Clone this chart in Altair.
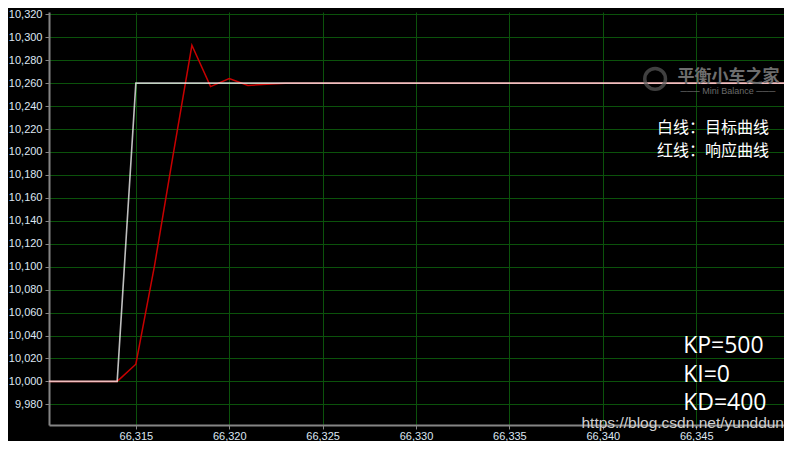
import altair as alt
import pandas as pd

# ---- data ----
target_t = [66310, 66314, 66315, 66351]
target_v = [10000, 10000, 10260, 10260]

resp_t = [66310, 66314, 66315, 66316, 66317, 66318, 66319, 66320, 66321, 66322, 66323, 66351]
resp_v = [10000, 10000, 10015, 10101, 10198, 10293, 10257, 10264, 10258, 10259, 10260, 10260]

x_ticks = [66315, 66320, 66325, 66330, 66335, 66340, 66345, 66350]
y_ticks = [9980, 10000, 10020, 10040, 10060, 10080, 10100, 10120, 10140, 10160,
           10180, 10200, 10220, 10240, 10260, 10280, 10300, 10320]

x_domain = [66310.35, 66349.7]
y_domain = [9962, 10322]

legend_text = ["白线：目标曲线", "红线：响应曲线"]
legend_t = [66348.9, 66348.9]
legend_v = [10221, 10201]

param_text = ["KP=500", "KI=0", "KD=400"]
param_t = [66344.3, 66344.3, 66344.3]
param_v = [10031, 10006, 9981]

target = pd.DataFrame({"t": target_t, "v": target_v})
resp = pd.DataFrame({"t": resp_t, "v": resp_v})
legend_df = pd.DataFrame({"t": legend_t, "v": legend_v, "s": legend_text})
param_df = pd.DataFrame({"t": param_t, "v": param_v, "s": param_text})
logo_df = pd.DataFrame({"t": [66342.8], "v": [10263.7]})
logo_txt = pd.DataFrame({"t": [66344.0], "v": [10265.5], "s": ["平衡小车之家"]})
logo_sub = pd.DataFrame({"t": [66346.7], "v": [10253.4], "s": ["─── Mini Balance ───"]})
url_df = pd.DataFrame({"t": [66349.7], "v": [9963.5], "s": ["https://blog.csdn.net/yunddun"]})

xs = alt.Scale(domain=x_domain, nice=False, zero=False)
ys = alt.Scale(domain=y_domain, nice=False, zero=False)

X = alt.X("t:Q", scale=xs, title=None,
          axis=alt.Axis(values=x_ticks, format=",d", grid=True, tickSize=4,
                        labelPadding=1, labelFlush=False, labelOverlap=False))
Y = alt.Y("v:Q", scale=ys, title=None,
          axis=alt.Axis(values=y_ticks, format=",d", grid=True, tickSize=4,
                        labelPadding=3, labelOverlap=False))

resp_line = alt.Chart(resp).mark_line(color="#c80000", strokeWidth=1.5, clip=True).encode(x=X, y=Y)
target_line = alt.Chart(target).mark_line(color="#ffffff", strokeWidth=1.6, opacity=0.75, clip=True).encode(x=X, y=Y)

logo_ring = alt.Chart(logo_df).mark_point(shape="circle", size=430, filled=False,
                                          stroke="#5c5c5c", strokeWidth=3.5).encode(x=X, y=Y)
logo_t = alt.Chart(logo_txt).mark_text(align="left", baseline="middle", font="Noto Sans CJK SC",
                                       fontSize=17, fontWeight="bold", color="#6e6e6e").encode(x=X, y=Y, text="s:N")
logo_s = alt.Chart(logo_sub).mark_text(align="center", baseline="middle", font="Liberation Sans",
                                       fontSize=9, color="#6a6a6a").encode(x=X, y=Y, text="s:N")

legend = alt.Chart(legend_df).mark_text(align="right", baseline="middle", font="Noto Sans CJK SC",
                                        fontSize=16, color="#ffffff").encode(x=X, y=Y, text="s:N")
params = alt.Chart(param_df).mark_text(align="left", baseline="middle", font="Open Sans",
                                       fontSize=23, color="#ffffff").encode(x=X, y=Y, text="s:N")
url = alt.Chart(url_df).mark_text(align="right", baseline="middle", font="Liberation Sans",
                                  fontSize=15.5, color="#cfcfcf").encode(x=X, y=Y, text="s:N")

chart = alt.layer(resp_line, target_line, logo_ring, logo_t, logo_s, legend, params, url).properties(
    width=776, height=433,
    autosize=alt.AutoSizeParams(type="fit", contains="padding"),
    padding=0,
    background="#000000",
).configure_view(stroke=None, fill="#000000").configure_axis(
    domainColor="#858585", domainWidth=2,
    tickColor="#858585", tickWidth=1,
    gridColor="#0b520b", gridWidth=1, gridOpacity=1,
    labelColor="#dde6f2", labelFont="Liberation Sans", labelFontSize=11,
)

chart.save("out.html", embed_options={"renderer": "svg", "actions": False})
